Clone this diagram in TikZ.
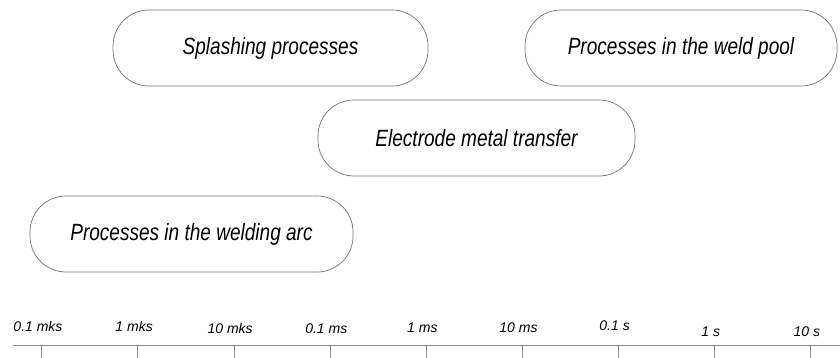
\documentclass[tikz,border=0pt]{standalone}
\usepackage{fontspec}
\setmainfont{Liberation Sans}
\newfontfamily\boxfont[FakeStretch=0.81]{Liberation Sans}
\begin{document}
\begin{tikzpicture}[x=1pt,y=-1pt,
  procbox/.style={draw=black!55, line width=0.7pt, rounded corners=36pt,
    minimum height=76pt, inner sep=0pt, font=\boxfont\itshape\fontsize{23.5}{26}\selectfont},
  tickmark/.style={draw=black!45, line width=0.7pt},
  ticklabel/.style={font=\itshape\fontsize{14}{16}\selectfont, inner sep=0pt}]
\useasboundingbox (0,0) rectangle (840,358);
\node[procbox, minimum width=315pt] (splash) at (270.5,48) {Splashing processes};
\node[procbox, minimum width=312pt] (pool) at (681,48) {Processes in the weld pool};
\node[procbox, minimum width=317pt] (elec) at (476.5,138) {Electrode metal transfer};
\node[procbox, minimum width=323pt] (arc) at (191.5,234) {Processes in the welding arc};
\coordinate (axL) at (13,345);
\coordinate (axR) at (840,345);
\draw[tickmark] (axL) -- (axR);
\foreach \i/\lab/\ly in {0/0.1 mks/326,1/1 mks/326,2/10 mks/328,3/0.1 ms/329,4/1 ms/328,5/10 ms/328,6/0.1 s/326,7/1 s/332,8/10 s/332}{
  \coordinate (t\i) at ({41.7+96.1*\i},345);
  \coordinate (b\i) at ({41.7+96.1*\i},358);
  \draw[tickmark] (t\i) -- (b\i);
  \node[ticklabel] (l\i) at ({38+96.1*\i},\ly) {\lab};
}
\end{tikzpicture}
\end{document}
